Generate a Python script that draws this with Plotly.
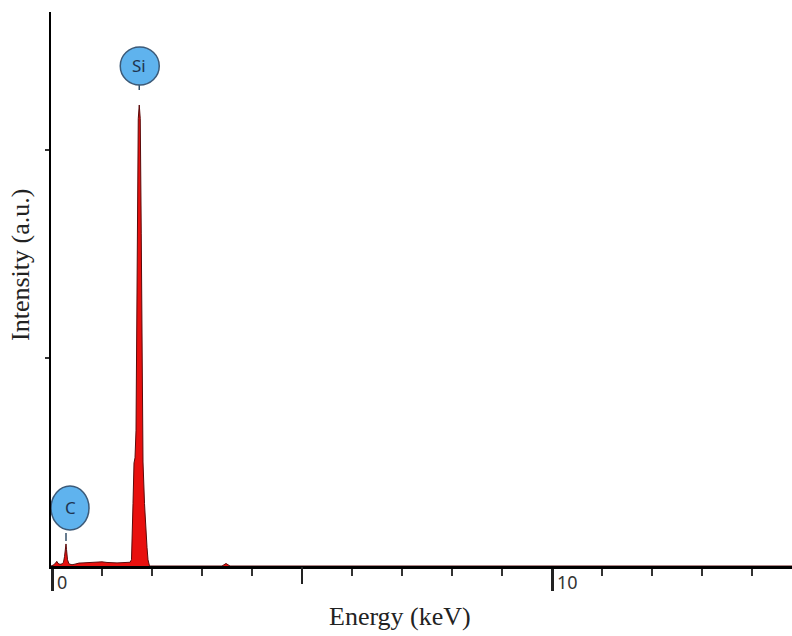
import plotly.graph_objects as go

# ---- data ----
energy_kev = [-0.02, 0.00, 0.04, 0.08, 0.10, 0.12, 0.16, 0.20, 0.23, 0.25, 0.27, 0.28, 0.29,
              0.31, 0.34, 0.40, 0.46, 0.54, 0.62, 0.70, 0.80, 0.90, 1.00, 1.10, 1.20, 1.30,
              1.40, 1.50, 1.56, 1.59, 1.60, 1.62, 1.64, 1.66, 1.68, 1.705, 1.725, 1.745,
              1.765, 1.785, 1.805, 1.82, 1.85, 1.88, 1.90, 1.92, 1.95,
              2.00, 3.40, 3.44, 3.48, 3.52, 3.56, 3.70, 14.80]
counts = [0, 2, 6, 18, 22, 12, 8, 10, 18, 45, 95, 106, 80,
          30, 10, 6, 9, 14, 15, 16, 18, 20, 20, 17, 15, 15,
          16, 18, 18, 30, 95, 300, 495, 520, 650, 1600, 2150, 2216,
          2150, 1600, 700, 500, 300, 150, 90, 30, 0,
          0, 0, 6, 12, 6, 0, 0, 0]

peak_labels = ["C", "Si"]
peak_energy = [0.28, 1.745]
peak_height = [106, 2216]

major_ticks = [0, 10]
major_labels = ["0", "10"]
mid_ticks = [5]
minor_ticks = [1, 2, 3, 4, 6, 7, 8, 9, 11, 12, 13, 14]
y_ticks = [1000, 2000]

x_range = [-0.02, 14.8]
y_range = [0, 2663]

fig = go.Figure()
fig.add_trace(go.Scatter(
    x=energy_kev, y=counts, mode="lines", fill="tozeroy",
    line=dict(color="#5a0a0a", width=1), fillcolor="#e8100e",
    hoverinfo="skip", showlegend=False))
# overlay axis for the mid-length tick at 5 keV
fig.add_trace(go.Scatter(x=mid_ticks, y=[0], xaxis="x2", mode="markers",
                         marker=dict(opacity=0), showlegend=False, hoverinfo="skip"))

fig.update_layout(
    width=792, height=636,
    margin=dict(l=51, r=0, t=12, b=70),
    paper_bgcolor="white", plot_bgcolor="white",
    xaxis=dict(range=x_range, showgrid=False, zeroline=False,
               showline=True, linecolor="black", linewidth=2.5,
               tickmode="array", tickvals=major_ticks, showticklabels=False,
               ticks="outside", ticklen=22, tickwidth=2.5, tickcolor="#222",
               minor=dict(tickmode="array", tickvals=minor_ticks, ticks="outside",
                          ticklen=7, tickwidth=1.5, tickcolor="#333", showgrid=False)),
    xaxis2=dict(range=x_range, overlaying="x", anchor="y", side="bottom",
                showgrid=False, zeroline=False, showline=False,
                tickmode="array", tickvals=mid_ticks, showticklabels=False,
                ticks="outside", ticklen=17, tickwidth=2, tickcolor="#222"),
    yaxis=dict(range=y_range, showgrid=False, zeroline=False,
               showline=True, linecolor="black", linewidth=2,
               tickmode="array", tickvals=y_ticks, showticklabels=False,
               ticks="outside", ticklen=4, tickwidth=1.5, tickcolor="#333"),
)

# tick labels (left-aligned to the right of each tick)
for v, t in zip(major_ticks, major_labels):
    fig.add_annotation(x=v, y=0, xref="x", yref="paper", text=t, showarrow=False,
                       xanchor="left", yanchor="middle", xshift=3, yshift=-16,
                       font=dict(family="Noto Sans", size=18, color="#333"))

# axis titles
fig.add_annotation(x=(400 - 51) / 741, y=0, xref="paper", yref="paper",
                   text="Energy (keV)", showarrow=False, xanchor="center",
                   yanchor="middle", yshift=-50,
                   font=dict(family="Liberation Serif", size=26, color="#222"))
fig.add_annotation(x=(20 - 51) / 741, y=(566 - 265) / 554, xref="paper", yref="paper",
                   text="Intensity (a.u.)", showarrow=False, textangle=-90,
                   xanchor="center", yanchor="middle",
                   font=dict(family="Liberation Serif", size=26, color="#222"))

# peak markers: circle + stem + element label
geo = {"C": dict(dx0=-15, dx1=23, dy0=14, dy1=58, s0=3, s1=11, cx=4, cy=36),
       "Si": dict(dx0=-19, dx1=20, dy0=20, dy1=58, s0=15, s1=22, cx=0, cy=39)}
for lab, e, h in zip(peak_labels, peak_energy, peak_height):
    g = geo[lab]
    fig.add_shape(type="line", xref="x", yref="y", xsizemode="pixel", ysizemode="pixel",
                  xanchor=e, yanchor=h, x0=0, x1=0, y0=g["s0"], y1=g["s1"],
                  line=dict(color="#34506a", width=1.5))
    fig.add_shape(type="circle", xref="x", yref="y", xsizemode="pixel", ysizemode="pixel",
                  xanchor=e, yanchor=h, x0=g["dx0"], x1=g["dx1"], y0=g["dy0"], y1=g["dy1"],
                  fillcolor="#5fb3ee", line=dict(color="#3c5a78", width=1.5))
    fig.add_annotation(x=e, y=h, xref="x", yref="y", text=lab, showarrow=False,
                       xanchor="center", yanchor="middle", xshift=g["cx"], yshift=g["cy"],
                       font=dict(family="Noto Sans", size=17, color="#1e3550"))

fig.write_html("out.html")
